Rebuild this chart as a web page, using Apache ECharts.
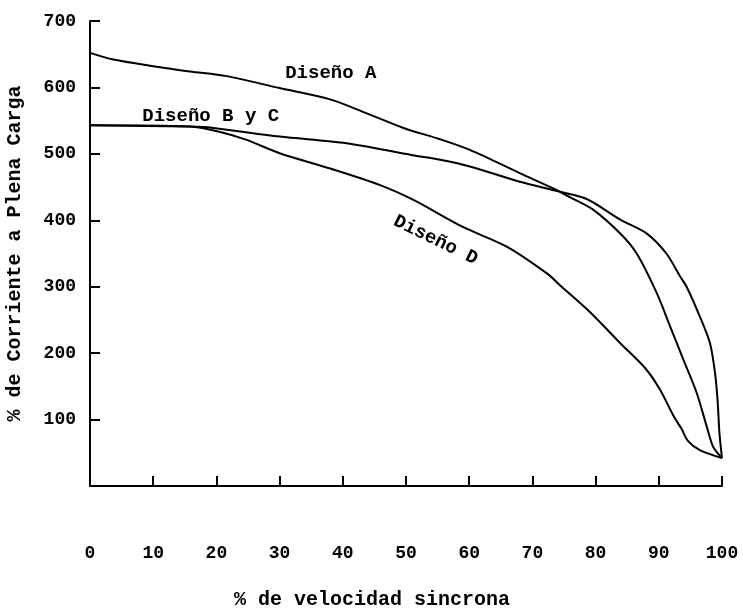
<!DOCTYPE html>
<html>
<head>
<meta charset="utf-8">
<script src="https://cdn.jsdelivr.net/npm/echarts@6/dist/echarts.min.js"></script>
<style>html,body{margin:0;padding:0;background:#fff;}#c{width:743px;height:610px;}</style>
</head>
<body>
<div id="c"></div>
<script>
// % velocidad sincrona, % corriente a plena carga
const disenoA = [[0,652],[3.7,642],[10,632],[15.8,624],[21.6,617],[30,599],[38,582],[43.8,561],[49.6,539],[55.4,522],[60.1,506],[68,471],[73.3,448],[75.9,435],[79.6,416],[83.9,380],[86.5,350],[89.7,290],[91.8,240],[93.9,190],[96,140],[97.6,89],[98.6,59],[100,42]];
const disenoBC = [[0,543],[15.8,541],[19.5,539],[30,526],[40.6,516],[51,498],[55.4,491],[60.1,481],[68,458],[74.4,443],[78.6,432],[83.9,401],[88.1,380],[91.2,350],[93.4,315],[94.4,300],[96.5,255],[98.1,215],[98.9,170],[99.3,129],[99.6,79],[100,42]];
const disenoD = [[0,543],[15.8,541],[20.6,533],[24.8,521],[30,501],[38,478],[45.9,453],[51.1,431],[59,390],[66,360],[72.3,320],[74.4,302],[79.1,262],[83.9,215],[87.8,178],[90.2,145],[92.3,106],[93.6,86],[94.6,68],[96.5,54],[100,42]];
const xTicks = [0,10,20,30,40,50,60,70,80,90,100];
const yTicks = [100,200,300,400,500,600,700];
const labels = [
  {text:'Diseño A', at:[38.1,622], rot:0},
  {text:'Diseño B y C', at:[19.1,557], rot:0},
  {text:'Diseño D', at:[54.7,370], rot:-26}
];

const FONT = '"Liberation Mono", "DejaVu Sans Mono", monospace';
const chart = echarts.init(document.getElementById('c'), null, {renderer:'canvas'});
const lineSeries = (name, data) => ({
  name, type:'line', data, smooth:0.3, symbol:'none',
  lineStyle:{color:'#000', width:2}, z:2
});
chart.setOption({
  backgroundColor:'#fff',
  animation:false,
  grid:{left:90, right:21, top:21, bottom:124, containLabel:false, outerBoundsMode:'none'},
  xAxis:{
    type:'value', min:0, max:100, interval:10,
    name:'% de velocidad sincrona', nameLocation:'middle', nameGap:104,
    nameTextStyle:{fontFamily:FONT, fontSize:20, fontWeight:'bold', color:'#000', padding:[0,68,0,0]},
    axisLine:{show:true, lineStyle:{color:'#000', width:2}},
    axisTick:{show:true, inside:true, length:10, lineStyle:{color:'#000', width:2}},
    axisLabel:{margin:58, fontFamily:FONT, fontSize:18, fontWeight:'bold', color:'#000',
      formatter:v => xTicks.includes(v) ? String(v) : ''},
    splitLine:{show:false}
  },
  yAxis:{
    type:'value', min:0, max:700, interval:100,
    name:'% de Corriente a Plena Carga', nameLocation:'middle', nameGap:65,
    nameTextStyle:{fontFamily:FONT, fontSize:20, fontWeight:'bold', color:'#000'},
    axisLine:{show:true, lineStyle:{color:'#000', width:2}},
    axisTick:{show:true, inside:true, length:10, lineStyle:{color:'#000', width:2}},
    axisLabel:{margin:14, fontFamily:FONT, fontSize:18, fontWeight:'bold', color:'#000',
      formatter:v => yTicks.includes(v) ? String(v) : ''},
    splitLine:{show:false}
  },
  series:[
    lineSeries('Diseño A', disenoA),
    lineSeries('Diseño B y C', disenoBC),
    lineSeries('Diseño D', disenoD),
    {
      type:'scatter', symbolSize:0, silent:true, z:5,
      itemStyle:{opacity:1},
      data: labels.map(l => ({
        value:l.at,
        label:{show:true, formatter:l.text, position:'inside', rotate:l.rot,
          fontFamily:FONT, fontSize:19, fontWeight:'bold', color:'#000',
          textBorderWidth:0, opacity:1}
      }))
    }
  ]
});
</script>
</body>
</html>
